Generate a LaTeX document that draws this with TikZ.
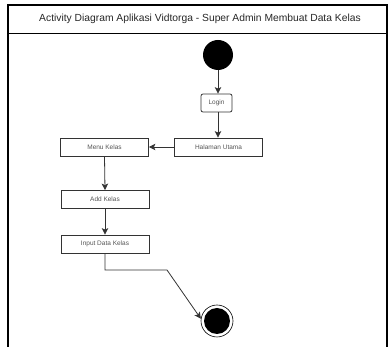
\documentclass[tikz,border=0pt]{standalone}
\usepackage{fontspec}
\setmainfont{Liberation Sans}
\usetikzlibrary{arrows.meta}
\definecolor{linegray}{HTML}{333333}
\definecolor{textgray}{HTML}{555555}
\tikzset{
  act/.style={draw=linegray, line width=0.8pt, minimum width=88pt, minimum height=18pt,
    inner sep=0pt, font=\fontsize{6.5}{7}\selectfont, text=textgray},
  flow/.style={draw=linegray, line width=0.8pt, -{Stealth[length=6.5pt,width=6.5pt,inset=1.5pt]}},
}
\begin{document}
\begin{tikzpicture}[x=1pt,y=-1pt]
  \useasboundingbox (0,0) rectangle (389,347);
  \clip (0,0) rectangle (389,347);
  % frame with title strip
  \draw[black, line width=1.3pt] (8,365) -- (8,5) -- (387,5) -- (387,365);
  \draw[black, line width=0.8pt] (8,33) -- (387,33);
  \node[font=\fontsize{10.3}{12}\selectfont, text=black!85] (title) at (200,18.5)
    {Activity Diagram Aplikasi Vidtorga - Super Admin Membuat Data Kelas};
  % initial node
  \node[circle, fill=black, minimum size=30pt, inner sep=0pt] (start) at (218,55) {};
  % actions
  \node[act, rounded corners=2pt, minimum width=31pt] (login) at (216.5,103) {Login};
  \node[act] (utama) at (218.5,147) {Halaman Utama};
  \node[act] (menu) at (104.5,147) {Menu Kelas};
  \node[act] (add) at (105,199.5) {Add Kelas};
  \node[act] (input) at (105,244) {Input Data Kelas};
  % final node
  \node[circle, draw=black, line width=0.6pt, minimum size=32pt, inner sep=0pt] (end) at (217,321) {};
  \fill[black] (end.center) circle[radius=13pt];
  % control flows
  \draw[flow] (start) -- (start |- login.north);
  \draw[flow] (login.south -| start) -- (utama.north -| start);
  \draw[flow] (utama) -- (menu);
  \draw[flow] (menu.south) -- (add.north);
  \draw[flow] (add.south) -- (input.north);
  \coordinate (bend) at (167,270);
  \draw[flow] (input.south) |- (bend) -- (end.172);
\end{tikzpicture}
\end{document}
